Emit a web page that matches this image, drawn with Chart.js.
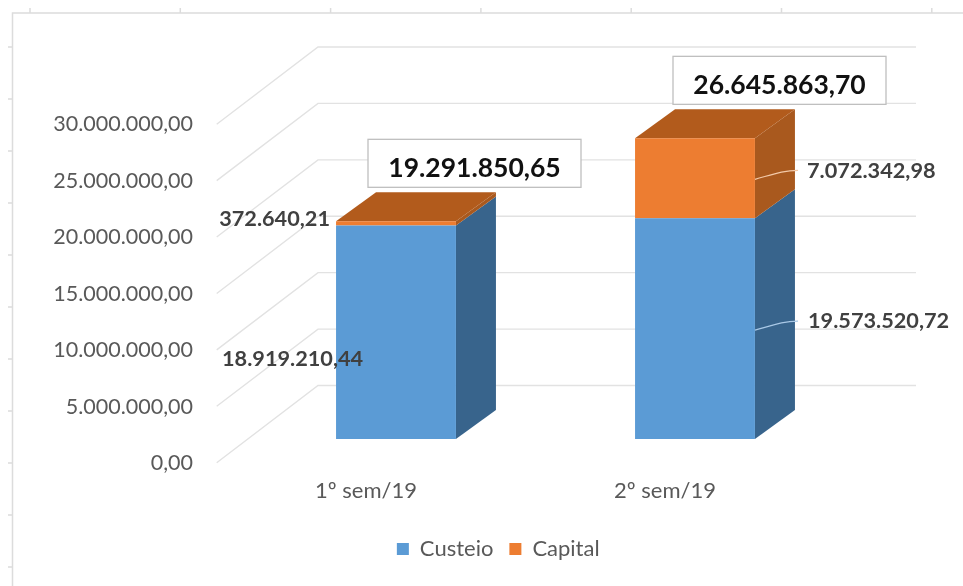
<!DOCTYPE html>
<html>
<head>
<meta charset="utf-8">
<title>Custeio e Capital</title>
<script src="https://cdn.jsdelivr.net/npm/chart.js@4"></script>
<style>
  html, body { margin: 0; padding: 0; background: #fff; }
  #wrap { width: 963px; height: 586px; }
</style>
</head>
<body>
<div id="wrap"><canvas id="chart"></canvas></div>
<script>
const categories = ["1º sem/19", "2º sem/19"];
const custeio = [18919210.44, 19573520.72];
const capital = [372640.21, 7072342.98];
const totals = [19291850.65, 26645863.70];
const yTicks = [0, 5000000, 10000000, 15000000, 20000000, 25000000, 30000000];

const FONT = "Lato, 'Open Sans', sans-serif";
const fmt = v => v.toLocaleString("pt-BR", { minimumFractionDigits: 2, maximumFractionDigits: 2 });

// depth of the fake 3D box and of the wall behind it
const barDepth = { x: 40, y: -29 };
const wall = { left: 216.7, back: 318, right: 916, frontDy: 23.7, backDy: -53.5 };

const box3d = {
    id: "box3d",
    afterLayout(chart) {
        // legend sits right of the plot centre in the original
        chart.legend.left += 76;
        chart.legend.right += 76;
    },
    beforeDatasetsDraw(chart) {
        const { ctx, scales: { y } } = chart;
        ctx.save();

        // sheet frame behind the chart
        ctx.strokeStyle = "#dcdcdc";
        ctx.lineWidth = 1.5;
        ctx.beginPath();
        ctx.moveTo(963, 13);
        ctx.lineTo(12.5, 13);
        ctx.lineTo(12.5, 586);
        for (let px = 30; px < 963; px += 150.3) {
            ctx.moveTo(px, 8);
            ctx.lineTo(px, 13);
        }
        for (let py = 47; py < 586; py += 52) {
            ctx.moveTo(8, py);
            ctx.lineTo(12.5, py);
        }
        ctx.stroke();

        // walls
        ctx.strokeStyle = "#e2e2e2";
        ctx.lineWidth = 1.4;
        yTicks.forEach(v => {
            const py = y.getPixelForValue(v);
            ctx.beginPath();
            ctx.moveTo(wall.left, py + wall.frontDy);
            ctx.lineTo(wall.back, py + wall.backDy);
            ctx.lineTo(wall.right, py + wall.backDy);
            ctx.stroke();
        });

        // side and top faces
        const faces = [
            { side: "#38648c", top: "#38648c" },
            { side: "#a9591e", top: "#b25b1c" }
        ];
        faces.forEach((f, d) => {
            chart.getDatasetMeta(d).data.forEach(bar => {
                const r = bar.x + bar.width / 2;
                const l = bar.x - bar.width / 2;
                ctx.fillStyle = f.side;
                ctx.beginPath();
                ctx.moveTo(r, bar.y);
                ctx.lineTo(r + barDepth.x, bar.y + barDepth.y);
                ctx.lineTo(r + barDepth.x, bar.base + barDepth.y);
                ctx.lineTo(r, bar.base);
                ctx.closePath();
                ctx.fill();
                if (d === 1) {
                    ctx.fillStyle = f.top;
                    ctx.beginPath();
                    ctx.moveTo(l, bar.y);
                    ctx.lineTo(l + barDepth.x, bar.y + barDepth.y);
                    ctx.lineTo(r + barDepth.x, bar.y + barDepth.y);
                    ctx.lineTo(r, bar.y);
                    ctx.closePath();
                    ctx.fill();
                }
            });
        });
        ctx.restore();
    },
    afterDatasetsDraw(chart) {
        const { ctx } = chart;
        const cus = chart.getDatasetMeta(0).data;
        const cap = chart.getDatasetMeta(1).data;
        ctx.save();

        // leader lines on the second bar
        ctx.lineWidth = 1.2;
        ctx.strokeStyle = "#f3c9a8";
        ctx.beginPath();
        ctx.moveTo(cap[1].x + 60, cap[1].y + 41);
        ctx.bezierCurveTo(cap[1].x + 78, cap[1].y + 36, cap[1].x + 88, cap[1].y + 32, cap[1].x + 103, cap[1].y + 32);
        ctx.stroke();
        ctx.strokeStyle = "#a9c8e6";
        ctx.beginPath();
        ctx.moveTo(cus[1].x + 60, cus[1].y + 112);
        ctx.bezierCurveTo(cus[1].x + 78, cus[1].y + 107, cus[1].x + 88, cus[1].y + 103, cus[1].x + 103, cus[1].y + 103);
        ctx.stroke();

        // value labels
        ctx.font = "bold 21.7px " + FONT;
        ctx.fillStyle = "#404040";
        ctx.textBaseline = "middle";
        ctx.textAlign = "right";
        ctx.fillText(fmt(capital[0]), cap[0].x - 66, cap[0].y - 2);
        ctx.textAlign = "left";
        ctx.fillText(fmt(custeio[0]), cus[0].x - 174, cus[0].y + 133);
        ctx.fillText(fmt(capital[1]), cap[1].x + 112, cap[1].y + 33);
        ctx.fillText(fmt(custeio[1]), cus[1].x + 113, cus[1].y + 103);

        // totals
        const dx = [78.5, 84.5];
        cap.forEach((bar, i) => {
            const cx = bar.x + dx[i];
            const top = bar.y - 82;
            ctx.fillStyle = "#fff";
            ctx.strokeStyle = "#bfbfbf";
            ctx.lineWidth = 1.3;
            ctx.fillRect(cx - 106.5, top, 213, 48);
            ctx.strokeRect(cx - 106.5, top, 213, 48);
            ctx.fillStyle = "#111";
            ctx.font = "bold 26.5px " + FONT;
            ctx.textAlign = "center";
            ctx.fillText(fmt(totals[i]), cx, top + 29);
        });
        ctx.restore();
    }
};

new Chart(document.getElementById("chart"), {
    type: "bar",
    data: {
        labels: categories,
        datasets: [
            { label: "Custeio", data: custeio, backgroundColor: "#5b9bd5" },
            { label: "Capital", data: capital, backgroundColor: "#ed7d31" }
        ]
    },
    options: {
        responsive: true,
        maintainAspectRatio: false,
        animation: false,
        layout: { padding: { top: 100.5, right: 118.5, bottom: 16, left: 0 } },
        datasets: { bar: { categoryPercentage: 1, barPercentage: 0.401 } },
        scales: {
            x: {
                stacked: true,
                afterFit: s => { s.height = 83; },
                border: { display: false },
                grid: { display: false },
                ticks: { color: "#595959", font: { size: 22, family: FONT }, padding: 31, labelOffset: -30 }
            },
            y: {
                stacked: true,
                min: 0,
                max: 30000000,
                afterFit: s => { s.width = 246.5; },
                afterBuildTicks: s => { s.ticks = yTicks.map(value => ({ value })); },
                border: { display: false },
                grid: { display: false, drawTicks: false },
                ticks: { color: "#595959", font: { size: 21.5, family: FONT }, padding: 53.5, labelOffset: 24, callback: v => fmt(v) }
            }
        },
        plugins: {
            tooltip: { enabled: false },
            legend: {
                position: "bottom",
                labels: { boxWidth: 12, boxHeight: 12, padding: 16, color: "#595959", font: { size: 22, family: FONT } }
            }
        }
    },
    plugins: [box3d]
});
</script>
</body>
</html>
